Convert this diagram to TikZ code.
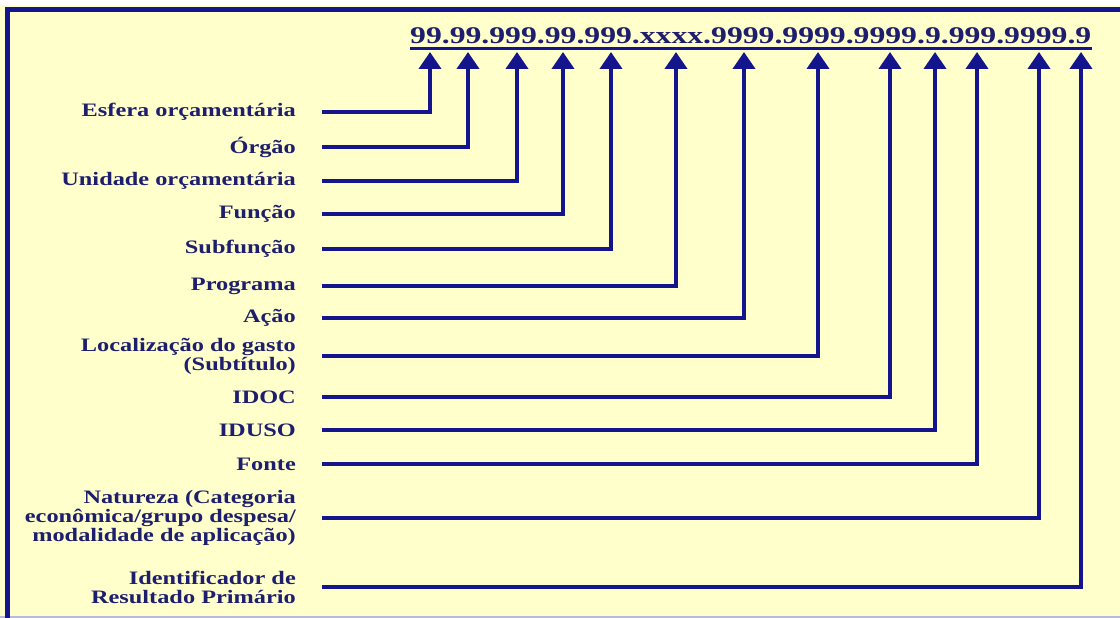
\documentclass[tikz,border=0pt]{standalone}
\usepackage{fontspec}
\setmainfont{Liberation Serif}
\newfontfamily\lblfont[FakeStretch=1.28]{Liberation Serif}
\newfontfamily\codefont[FakeStretch=1.32]{Liberation Serif}
\usetikzlibrary{arrows.meta}
\definecolor{paper}{HTML}{FFFFCC}
\definecolor{navy}{HTML}{14148C}
\definecolor{inkblue}{HTML}{1E1E6E}

\begin{document}
\begin{tikzpicture}[x=1pt,y=-1pt,
  conn/.style={navy,line width=4pt,-{Triangle[width=22pt,length=17pt]}},
  lbl/.style={anchor=east,inner sep=0pt,align=right,text=inkblue,
    font=\lblfont\bfseries\fontsize{19}{19}\selectfont}]
 \useasboundingbox (0,0) rectangle (1120,618);
 % yellow sheet with a navy border on top and left
 \fill[paper] (0,5) rectangle (1120,618);
 \draw[navy!30, line width=1.5pt] (0,617) -- (1120,617);
 \draw[navy, line width=5pt] (7,618) -- (7,9.5) -- (1120,9.5);

 % the code string, underlined
 \node[text=inkblue, font=\codefont\bfseries\fontsize{24}{24}\selectfont,
   anchor=base west, inner sep=0pt] (code) at (410,44)
   {99.99.999.99.999.xxxx.9999.9999.9999.9.999.9999.9};
 \draw[navy, line width=3pt] ([yshift=-5pt]code.base west) -- ([yshift=-5pt]code.base east);

 % one label per field, with its arrow up to the code
 \foreach \name/\yy/\xx/\txt in {
   esfera/112/430/{Esfera orçamentária},
   orgao/147/468/{Órgão},
   unidade/181/517/{Unidade orçamentária},
   funcao/214/563/{Função},
   subfuncao/249/611/{Subfunção},
   programa/286/676/{Programa},
   acao/318/744/{Ação},
   local/356/818/{Localização do gasto\\(Subtítulo)},
   idoc/397/890/{IDOC},
   iduso/430/935/{IDUSO},
   fonte/464/977/{Fonte},
   natureza/518/1039/{Natureza (Categoria\\econômica/grupo despesa/\\modalidade de aplicação)},
   irp/587/1081/{Identificador de\\Resultado Primário}} {
   \node[lbl] (\name) at (296,\yy) {\txt};
   \coordinate (\name-tip) at (\xx,52);
   \draw[conn] ([xshift=26pt]\name.east) -| (\name-tip);
 }
\end{tikzpicture}
\end{document}
